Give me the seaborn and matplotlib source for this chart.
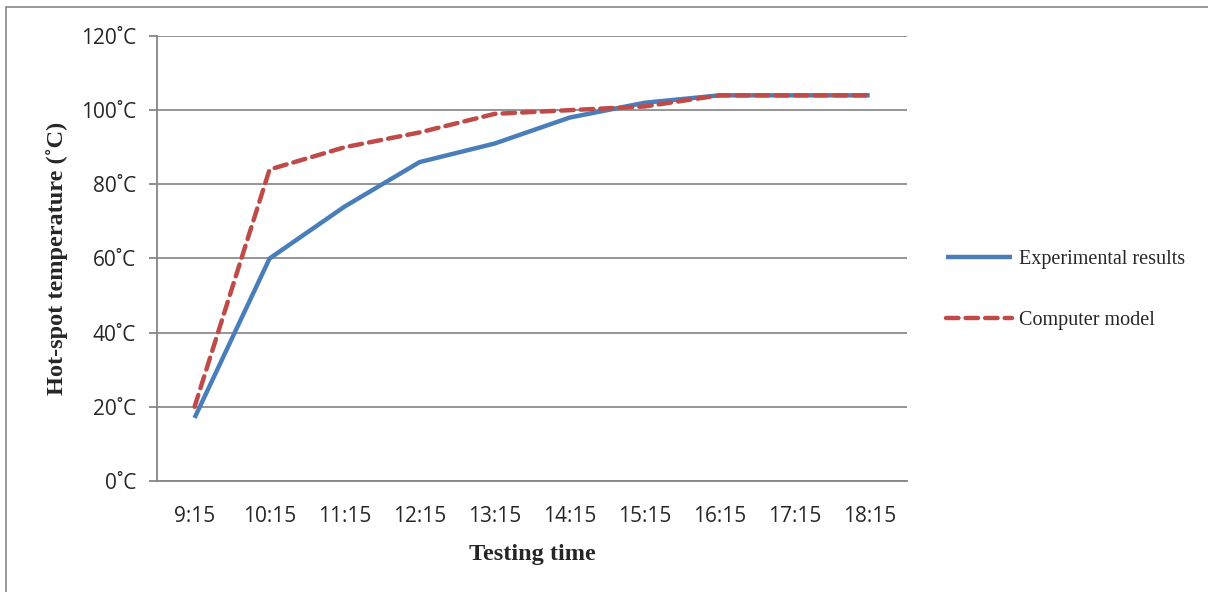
import pandas as pd
import seaborn as sns
import matplotlib.pyplot as plt
from matplotlib.patches import Rectangle

# data
times = ['9:15', '10:15', '11:15', '12:15', '13:15', '14:15', '15:15', '16:15', '17:15', '18:15']
experimental = [17, 60, 74, 86, 91, 98, 102, 104, 104, 104]
computer_model = [20, 84, 90, 94, 99, 100, 101, 104, 104, 104]
y_ticks = [0, 20, 40, 60, 80, 100, 120]

sns.set_style('white')
plt.rcParams['font.family'] = ['Open Sans', 'DejaVu Sans']

df = pd.DataFrame({'time': times, 'exp': experimental, 'model': computer_model})

fig = plt.figure(figsize=(12.08, 5.92), dpi=100)
ax = fig.add_axes([0.130, 0.1875, 0.621, 0.7517])

sns.lineplot(data=df, x='time', y='exp', ax=ax, color='#4A7EBB', linewidth=3.2,
             sort=False, label='Experimental results', solid_capstyle='butt')
sns.lineplot(data=df, x='time', y='model', ax=ax, color='#BE4B48', linewidth=3.2,
             sort=False, label='Computer model', dashes=False)
ax.lines[1].set_dashes([2.8, 1.6])
ax.lines[1].set_dash_capstyle('round')

ax.set_xlim(-0.5, len(times) - 0.5)
ax.set_ylim(0, 120)
ax.set_yticks(y_ticks)
ax.set_yticklabels([f'{v}˚C' for v in y_ticks], fontsize=15)
ax.tick_params(axis='x', labelsize=15, length=0, pad=18)
ax.tick_params(axis='y', length=6, width=1.3, color='#868686', pad=9, left=True)
ax.yaxis.grid(True, color='#8C8C8C', linewidth=1.3)
ax.xaxis.grid(False)
for side in ['top', 'right']:
    ax.spines[side].set_visible(False)
for side in ['left', 'bottom']:
    ax.spines[side].set_color('#868686')
    ax.spines[side].set_linewidth(1.3)
ax.set_axisbelow(True)

ax.set_xlabel('Testing time', fontsize=17.5, fontweight='bold', family='Liberation Serif', labelpad=12)
ax.set_ylabel('Hot-spot temperature (˚C)', fontsize=17.5, fontweight='bold', family='Liberation Serif', labelpad=9)

handles, labels = ax.get_legend_handles_labels()
ax.get_legend().remove()
fig.legend(handles, labels, loc='center left', bbox_to_anchor=(0.768, 0.51), frameon=False,
           prop={'family': 'Liberation Serif', 'size': 14.5}, labelspacing=2.1,
           handlelength=3.3, handletextpad=0.35)

# outer frame
fig.patches.append(Rectangle((0.005, -0.05), 1.0, 1.038, transform=fig.transFigure,
                             fill=False, edgecolor='#868686', linewidth=1.2))

fig.savefig('out.png', dpi=100)
